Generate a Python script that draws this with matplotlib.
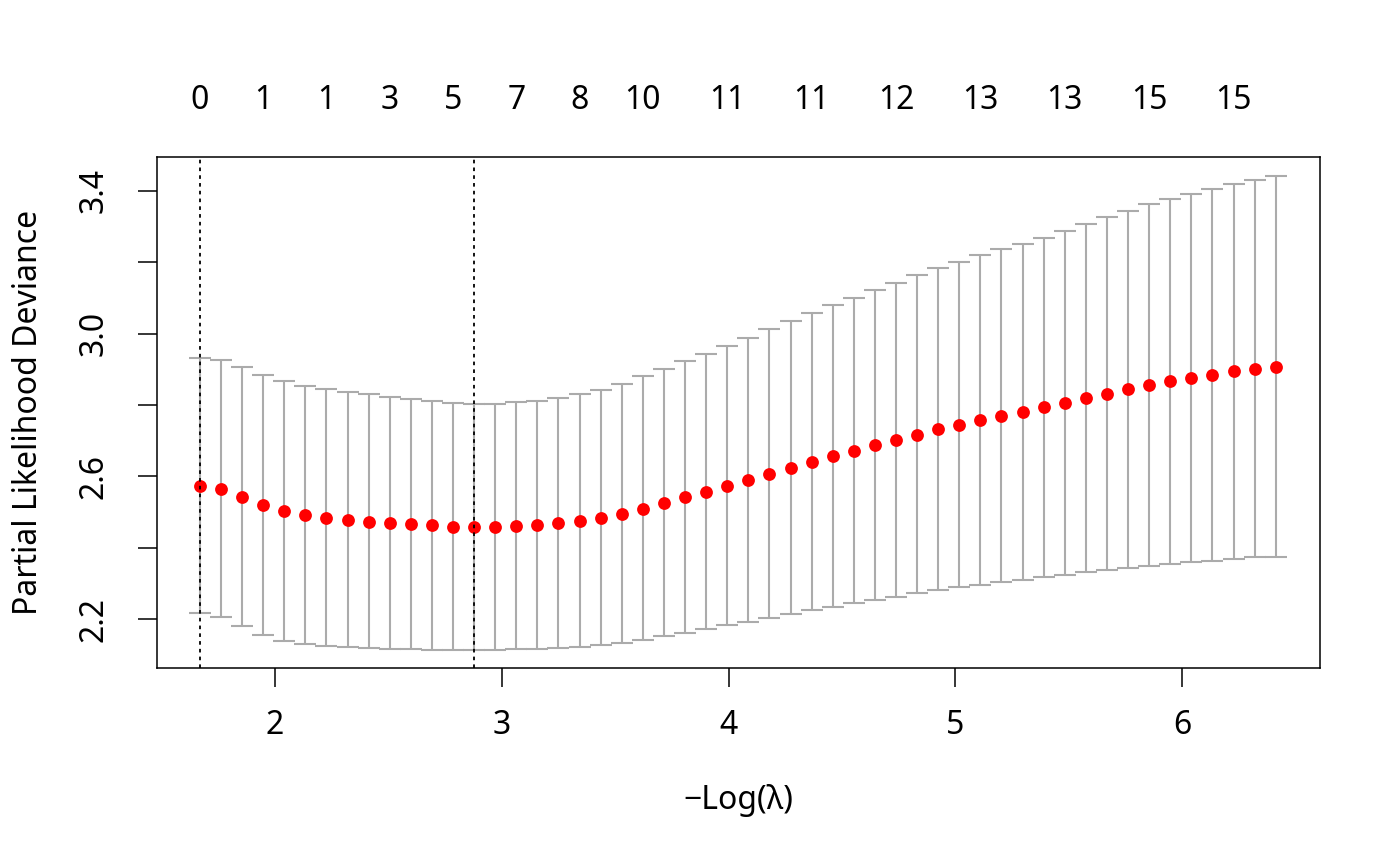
import numpy as np
import matplotlib
matplotlib.use("Agg")
import matplotlib.pyplot as plt

plt.rcParams["font.family"] = ["Noto Sans", "DejaVu Sans"]

# -log(lambda) for each fitted lambda
neg_log_lambda = [1.669, 1.762, 1.855, 1.948, 2.041, 2.134, 2.227, 2.320, 2.413, 2.506,
                  2.599, 2.692, 2.785, 2.878, 2.971, 3.064, 3.157, 3.250, 3.343, 3.436,
                  3.529, 3.622, 3.715, 3.808, 3.901, 3.994, 4.087, 4.180, 4.273, 4.366,
                  4.459, 4.552, 4.645, 4.738, 4.831, 4.924, 5.017, 5.110, 5.203, 5.296,
                  5.389, 5.482, 5.575, 5.668, 5.761, 5.854, 5.947, 6.040, 6.133, 6.226,
                  6.319, 6.412]

# mean cross-validated partial likelihood deviance
cvm = [2.574, 2.565, 2.543, 2.520, 2.503, 2.491, 2.482, 2.478, 2.473, 2.469,
       2.466, 2.463, 2.459, 2.457, 2.458, 2.461, 2.464, 2.469, 2.475, 2.483,
       2.495, 2.509, 2.525, 2.541, 2.557, 2.573, 2.590, 2.607, 2.624, 2.640,
       2.656, 2.672, 2.687, 2.703, 2.717, 2.732, 2.745, 2.757, 2.769, 2.780,
       2.793, 2.806, 2.819, 2.832, 2.844, 2.855, 2.866, 2.876, 2.885, 2.894,
       2.902, 2.907]

# upper / lower ends of the error bars (mean +- 1 sd)
cvup = [2.933, 2.925, 2.906, 2.885, 2.867, 2.854, 2.844, 2.836, 2.830, 2.822,
        2.816, 2.810, 2.806, 2.803, 2.804, 2.808, 2.811, 2.820, 2.830, 2.842,
        2.860, 2.880, 2.901, 2.922, 2.944, 2.966, 2.989, 3.012, 3.035, 3.058,
        3.079, 3.101, 3.122, 3.143, 3.164, 3.183, 3.201, 3.219, 3.237, 3.251,
        3.268, 3.288, 3.307, 3.326, 3.344, 3.362, 3.378, 3.392, 3.406, 3.420,
        3.431, 3.443]
cvlo = [2.216, 2.206, 2.180, 2.156, 2.138, 2.129, 2.124, 2.121, 2.118, 2.116,
        2.115, 2.114, 2.113, 2.113, 2.114, 2.115, 2.117, 2.119, 2.122, 2.126,
        2.132, 2.140, 2.152, 2.161, 2.172, 2.182, 2.193, 2.204, 2.214, 2.224,
        2.235, 2.244, 2.254, 2.263, 2.272, 2.280, 2.289, 2.296, 2.304, 2.310,
        2.318, 2.324, 2.331, 2.337, 2.344, 2.349, 2.354, 2.359, 2.363, 2.368,
        2.373, 2.375]

# number of nonzero coefficients shown on top axis
label_idx = [0, 3, 6, 9, 12, 15, 18, 21, 25, 29, 33, 37, 41, 45, 49]
nz_labels = ["0", "1", "1", "3", "5", "7", "8", "10", "11", "11", "12", "13", "13", "15", "15"]

idx_1se = 0
idx_min = 13

x = np.array(neg_log_lambda)
m = np.array(cvm)
up = np.array(cvup)
lo = np.array(cvlo)

fs = 23

fig = plt.figure(figsize=(14, 8.65), dpi=100)
ax = fig.add_axes([0.1121, 0.2277, 0.8308, 0.5908])

ax.errorbar(x, m, yerr=[m - lo, up - m], fmt="none", ecolor="#ABABAB",
            elinewidth=1.5, capsize=8, capthick=1.5, zorder=2)
ax.scatter(x, m, s=85, color="red", zorder=3, linewidths=0)

for i in (idx_1se, idx_min):
    ax.axvline(x[i], color="black", lw=1.3, linestyle=(0, (2.0, 2.3)), zorder=4)

ax.set_xlim(1.4797, 6.6076)
ax.set_ylim(2.0626, 3.495)

ax.set_xticks([2, 3, 4, 5, 6])
ax.set_yticks([2.2, 2.4, 2.6, 2.8, 3.0, 3.2, 3.4])
ax.set_yticklabels(["2.2", "", "2.6", "", "3.0", "", "3.4"])
ax.tick_params(axis="x", length=13.5, width=1.1, labelsize=fs, pad=16)
ax.tick_params(axis="y", length=13.5, width=1.1, labelsize=fs, pad=20)
for lab in ax.get_yticklabels():
    lab.set_rotation(90)
    lab.set_va("center")

for s in ax.spines.values():
    s.set_linewidth(1.1)

top = ax.secondary_xaxis("top")
top.set_xticks(x[label_idx])
top.set_xticklabels(nz_labels)
top.tick_params(length=0, labelsize=fs, pad=29)
top.spines["top"].set_visible(False)

ax.set_xlabel("\u2212Log(\u03bb)", fontsize=fs, labelpad=30)
ax.set_ylabel("Partial Likelihood Deviance", fontsize=fs, labelpad=23)

fig.savefig("out.png", dpi=100)
